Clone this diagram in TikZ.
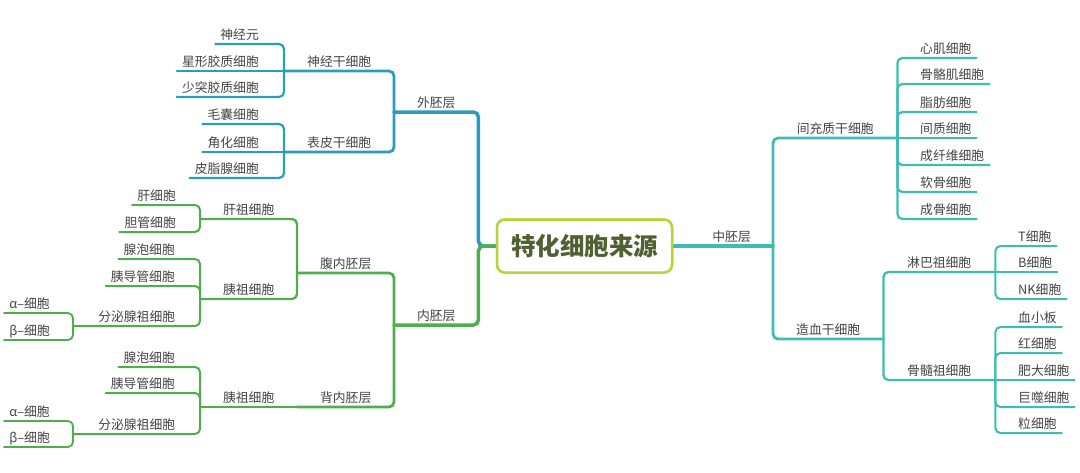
\documentclass[tikz,border=0pt]{standalone}
\usepackage{fontspec}
\newfontfamily\cjk{Noto Sans CJK SC}
\definecolor{cblue}{HTML}{2B9CC1}
\definecolor{cgreen}{HTML}{4FAE4C}
\definecolor{cteal}{HTML}{3DBDB1}
\definecolor{clime}{HTML}{B7D43A}
\definecolor{ctitle}{HTML}{4F6130}
\definecolor{ctext}{HTML}{444444}
\begin{document}
\begin{tikzpicture}[x=1pt,y=-1pt,
  lbl/.style={font=\cjk\fontsize{12.8}{14}\selectfont, text=ctext, inner xsep=0pt, inner ysep=0pt, text height=10pt, text depth=4pt},
  midbox/.style={lbl, anchor=south west, minimum width=#1},
  leafL/.style={lbl, inner xsep=5pt, anchor=south east},
  leafR/.style={lbl, inner xsep=5pt, anchor=south west},
  br/.style={line width=#1, rounded corners=5pt, line cap=round},
  rootbox/.style={draw=clime, line width=2.5pt, fill=white, rounded corners=8pt, minimum width=175pt, minimum height=53pt, font=\cjk\bfseries\fontsize{24.5}{28}\selectfont, text=ctitle}
]
\useasboundingbox (0,0) rectangle (1080,472);

% ---------- nodes ----------
\node[rootbox] (root) at (584.5,246) {特化细胞来源};

% ectoderm
\node[midbox=84] (wai) at (394,112) {外胚层};
\node[midbox=110] (sj) at (284,71) {神经干细胞};
\node[leafL] (sj1) at (264,44) {神经元};
\node[leafL] (sj2) at (264,71) {星形胶质细胞};
\node[leafL] (sj3) at (264,97) {少突胶质细胞};
\node[midbox=110] (bp) at (284,152) {表皮干细胞};
\node[leafL] (bp1) at (264,124) {毛囊细胞};
\node[leafL] (bp2) at (264,152) {角化细胞};
\node[leafL] (bp3) at (264,178) {皮脂腺细胞};

% endoderm
\node[midbox=84] (nei) at (394,325) {内胚层};
\node[midbox=97] (fu) at (297,273) {腹内胚层};
\node[midbox=97] (gz) at (200,219) {肝祖细胞};
\node[leafL] (gz1) at (181,205) {肝细胞};
\node[leafL] (gz2) at (181,232) {胆管细胞};
\node[midbox=97] (yz1) at (200,299) {胰祖细胞};
\node[leafL] (y11) at (180,259) {腺泡细胞};
\node[leafL] (y12) at (180,286) {胰导管细胞};
\node[midbox=127] (fm1) at (73,326) {分泌腺祖细胞};
\node[leafL] (a1) at (55,313) {α–细胞};
\node[leafL] (b1) at (55,340) {β–细胞};
\node[midbox=97] (bei) at (297,407) {背内胚层};
\node[midbox=97] (yz2) at (200,407) {胰祖细胞};
\node[leafL] (y21) at (180,367) {腺泡细胞};
\node[leafL] (y22) at (180,393) {胰导管细胞};
\node[midbox=127] (fm2) at (73,434) {分泌腺祖细胞};
\node[leafL] (a2) at (55,421) {α–细胞};
\node[leafL] (b2) at (55,447) {β–细胞};

% mesoderm
\node[lbl, inner xsep=22pt, anchor=south east] (zhong) at (773,246) {中胚层};
\node[midbox=124] (jc) at (773,138) {间充质干细胞};
\node[leafR] (jc1) at (915,58) {心肌细胞};
\node[leafR] (jc2) at (915,84) {骨骼肌细胞};
\node[leafR] (jc3) at (915,112) {脂肪细胞};
\node[leafR] (jc4) at (915,138) {间质细胞};
\node[leafR] (jc5) at (915,165) {成纤维细胞};
\node[leafR] (jc6) at (915,192) {软骨细胞};
\node[leafR] (jc7) at (915,219) {成骨细胞};
\node[midbox=110] (zx) at (773,339) {造血干细胞};
\node[midbox=112] (lb) at (883,272) {淋巴祖细胞};
\node[leafR] (lb1) at (1013,246) {T细胞};
\node[leafR] (lb2) at (1013,272) {B细胞};
\node[leafR] (lb3) at (1013,299) {NK细胞};
\node[midbox=112] (gs) at (883,380) {骨髓祖细胞};
\node[leafR] (gs1) at (1013,327) {血小板};
\node[leafR] (gs2) at (1013,353) {红细胞};
\node[leafR] (gs3) at (1013,380) {肥大细胞};
\node[leafR] (gs4) at (1013,407) {巨噬细胞};
\node[leafR] (gs5) at (1013,433) {粒细胞};

% ---------- connectors ----------
\begin{scope}[draw=cblue]
\draw[br=3.5pt] (wai.south west) -- (wai.south east) |- (root.west);
\draw[br=2.8pt] (sj.south west) -| (wai.south west);
\draw[br=2.8pt] (bp.south west) -| (wai.south west);
\foreach \c in {sj1,sj3} \draw[br=2.2pt] (\c.south west) -| (sj.south west);
\draw[br=2.2pt] (sj2.south west) -- (sj.south west);
\foreach \c in {bp1,bp3} \draw[br=2.2pt] (\c.south west) -| (bp.south west);
\draw[br=2.2pt] (bp2.south west) -- (bp.south west);
\end{scope}

\begin{scope}[draw=cgreen]
\draw[br=3.5pt] (nei.south west) -- (nei.south east) |- (root.west);
\draw[br=2.8pt] (fu.south west) -| (nei.south west);
\draw[br=2.8pt] (bei.south west) -| (nei.south west);
\draw[br=2.3pt] (gz.south west) -| (fu.south west);
\draw[br=2.3pt] (yz1.south west) -| (fu.south west);
\draw[br=2.3pt] (yz2.south west) -- (bei.south west);
\foreach \c in {gz1,gz2} \draw[br=2pt] (\c.south west) -| (gz.south west);
\foreach \c in {y11,y12,fm1} \draw[br=2pt] (\c.south west) -| (yz1.south west);
\foreach \c in {y21,y22,fm2} \draw[br=2pt] (\c.south west) -| (yz2.south west);
\foreach \c in {a1,b1} \draw[br=1.8pt] (\c.south west) -| (fm1.south west);
\foreach \c in {a2,b2} \draw[br=1.8pt] (\c.south west) -| (fm2.south west);
\end{scope}

\begin{scope}[draw=cteal]
\draw[br=3.5pt] (root.east) -- (zhong.south east);
\draw[br=2.8pt] (jc.south east) -| (zhong.south east);
\draw[br=2.8pt] (zx.south east) -| (zhong.south east);
\foreach \c in {jc1,jc2,jc3,jc5,jc6,jc7} \draw[br=2.2pt] (\c.south east) -| (jc.south east);
\draw[br=2.2pt] (jc4.south east) -- (jc.south east);
\draw[br=2.3pt] (lb.south east) -| (zx.south east);
\draw[br=2.3pt] (gs.south east) -| (zx.south east);
\foreach \c in {lb1,lb3} \draw[br=2pt] (\c.south east) -| (lb.south east);
\draw[br=2pt] (lb2.south east) -- (lb.south east);
\foreach \c in {gs1,gs2,gs4,gs5} \draw[br=2pt] (\c.south east) -| (gs.south east);
\draw[br=2pt] (gs3.south east) -- (gs.south east);
\end{scope}

\node[rootbox] at (root.center) {特化细胞来源};
\end{tikzpicture}
\end{document}
